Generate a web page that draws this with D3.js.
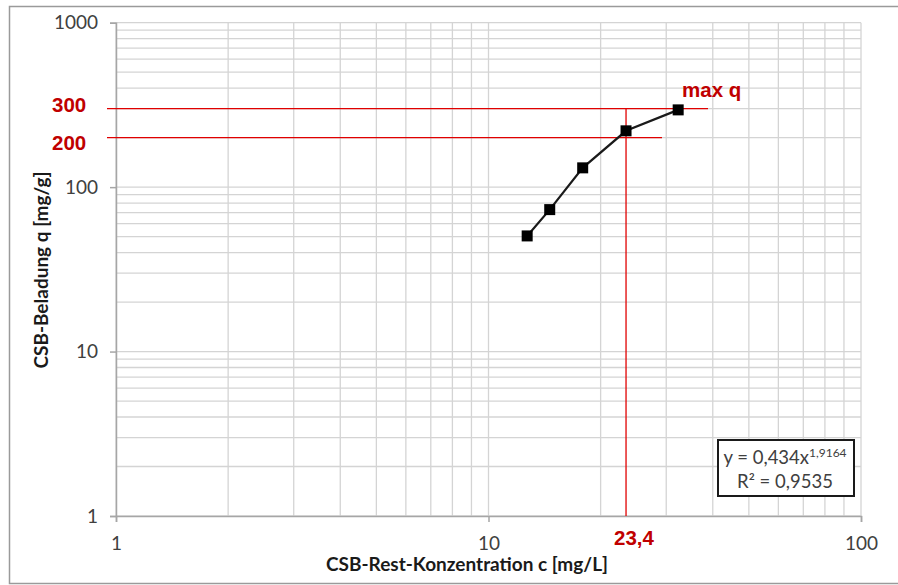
<!DOCTYPE html>
<html>
<head>
<meta charset="utf-8">
<script src="https://cdn.jsdelivr.net/npm/d3@7"></script>
<style>
  html, body { margin: 0; padding: 0; background: #fff; }
  svg { display: block; }
</style>
</head>
<body>
<svg id="chart" width="898" height="585"></svg>
<script>
// Residual COD concentration c [mg/L] and COD loading q [mg/g]
const concentration = [12.7, 14.6, 17.9, 23.4, 32.3];
const loading = [50.5, 73, 131, 220, 295];

const xTicks = [1, 10, 100];
const yTicks = [1, 10, 100, 1000];

// Reference lines
const refLoadings = [300, 200];
const refConcentration = 23.4;

const fitEquation = { coef: "0,434", exp: "1,9164", r2: "0,9535" };

const svg = d3.select("#chart");
const W = 898, H = 585;
const margin = { left: 116, right: 37, top: 22.7, bottom: 69 };

const x = d3.scaleLog().domain([1, 100]).range([margin.left, W - margin.right]);
const y = d3.scaleLog().domain([1, 1000]).range([H - margin.bottom, margin.top]);

const fmt = v => String(v).replace(".", ",");

// Outer frame
svg.append("rect")
  .attr("x", 9.5).attr("y", 6.5).attr("width", W + 10).attr("height", 577)
  .attr("fill", "none").attr("stroke", "#9a9a9a").attr("stroke-width", 1.5);

// Grid lines: every 1..9 per decade
const gridX = [], gridY = [];
for (let e = 0; e < 2; e++) for (let k = 1; k <= 9; k++) gridX.push(k * Math.pow(10, e));
gridX.push(100);
for (let e = 0; e < 3; e++) for (let k = 1; k <= 9; k++) gridY.push(k * Math.pow(10, e));
gridY.push(1000);

const grid = svg.append("g").attr("stroke", "#d4d4d4").attr("stroke-width", 1.3);
grid.selectAll(".gx").data(gridX).join("line")
  .attr("x1", d => x(d)).attr("x2", d => x(d))
  .attr("y1", y(1)).attr("y2", y(1000));
grid.selectAll(".gy").data(gridY).join("line")
  .attr("x1", x(1)).attr("x2", x(100))
  .attr("y1", d => y(d)).attr("y2", d => y(d));

// Axes
const axisFont = "Lato, 'Open Sans', sans-serif";
const yAxis = svg.append("g")
  .attr("transform", `translate(${x(1)},0)`)
  .call(d3.axisLeft(y).tickValues(yTicks).tickFormat(d => d).tickSize(6).tickPadding(12));
const xAxis = svg.append("g")
  .attr("transform", `translate(0,${y(1)})`)
  .call(d3.axisBottom(x).tickValues(xTicks).tickFormat(d => d).tickSize(6).tickPadding(13));

[xAxis, yAxis].forEach(a => {
  a.select(".domain").attr("stroke", "#a6a6a6").attr("stroke-width", 1.5);
  a.selectAll(".tick line").attr("stroke", "#a6a6a6").attr("stroke-width", 1.5);
  a.selectAll(".tick text").attr("fill", "#404040")
    .style("font-family", axisFont).style("font-size", "19px");
});
xAxis.selectAll(".tick text").attr("dy", "0.8em");

// Axis titles
svg.append("text")
  .attr("x", 467).attr("y", 571)
  .attr("text-anchor", "middle")
  .style("font-family", axisFont).style("font-weight", "bold").style("font-size", "19px")
  .attr("fill", "#1a1a1a")
  .text("CSB-Rest-Konzentration  c [mg/L]");

svg.append("text")
  .attr("transform", "translate(48,270) rotate(-90)")
  .attr("text-anchor", "middle")
  .style("font-family", axisFont).style("font-weight", "bold").style("font-size", "19px")
  .attr("fill", "#1a1a1a")
  .text("CSB-Beladung q [mg/g]");

// Red reference lines
const red = "#e00000";
const refEnds = [708, 662];
svg.selectAll(".refh").data(refLoadings).join("line")
  .attr("x1", 107).attr("x2", (d, i) => refEnds[i])
  .attr("y1", d => y(d)).attr("y2", d => y(d))
  .attr("stroke", red).attr("stroke-width", 1.3);
svg.append("line")
  .attr("x1", x(refConcentration)).attr("x2", x(refConcentration))
  .attr("y1", y(d3.max(refLoadings))).attr("y2", y(1))
  .attr("stroke", red).attr("stroke-width", 1.3);

// Data line and markers
const line = d3.line().x((d, i) => x(concentration[i])).y(d => y(d));
svg.append("path")
  .attr("d", line(loading))
  .attr("fill", "none").attr("stroke", "#1a1a1a").attr("stroke-width", 2.2);
const ms = 11;
svg.selectAll(".pt").data(loading).join("rect")
  .attr("x", (d, i) => x(concentration[i]) - ms / 2)
  .attr("y", d => y(d) - ms / 2)
  .attr("width", ms).attr("height", ms)
  .attr("fill", "#000");

// Red annotations
const redText = "#c00000";
const redFont = "'Liberation Sans', Arial, sans-serif";
function redLabel(tx, ty, txt, anchor) {
  svg.append("text").attr("x", tx).attr("y", ty)
    .attr("text-anchor", anchor || "start")
    .style("font-family", redFont).style("font-weight", "bold").style("font-size", "20.5px")
    .attr("fill", redText).text(txt);
}
redLabel(52, y(refLoadings[0]) + 3.5, fmt(refLoadings[0]));
redLabel(52, y(refLoadings[1]) + 12.7, fmt(refLoadings[1]));
redLabel(682, 97, "max q");
redLabel(x(refConcentration) - 12, 545, fmt(refConcentration));

// Trendline equation box
const box = svg.append("g");
box.append("rect")
  .attr("x", 718).attr("y", 440).attr("width", 136).attr("height", 56)
  .attr("fill", "#fff").attr("stroke", "#1a1a1a").attr("stroke-width", 2);
const eq = box.append("text")
  .attr("x", 785).attr("y", 464).attr("text-anchor", "middle")
  .style("font-family", axisFont).style("font-size", "18.5px").attr("fill", "#404040");
eq.append("tspan").text(`y = ${fitEquation.coef}x`);
eq.append("tspan").attr("dy", "-7").style("font-size", "12px").text(fitEquation.exp);
box.append("text")
  .attr("x", 785).attr("y", 488).attr("text-anchor", "middle")
  .style("font-family", axisFont).style("font-size", "18.5px").attr("fill", "#404040")
  .text(`R² = ${fitEquation.r2}`);
</script>
</body>
</html>
